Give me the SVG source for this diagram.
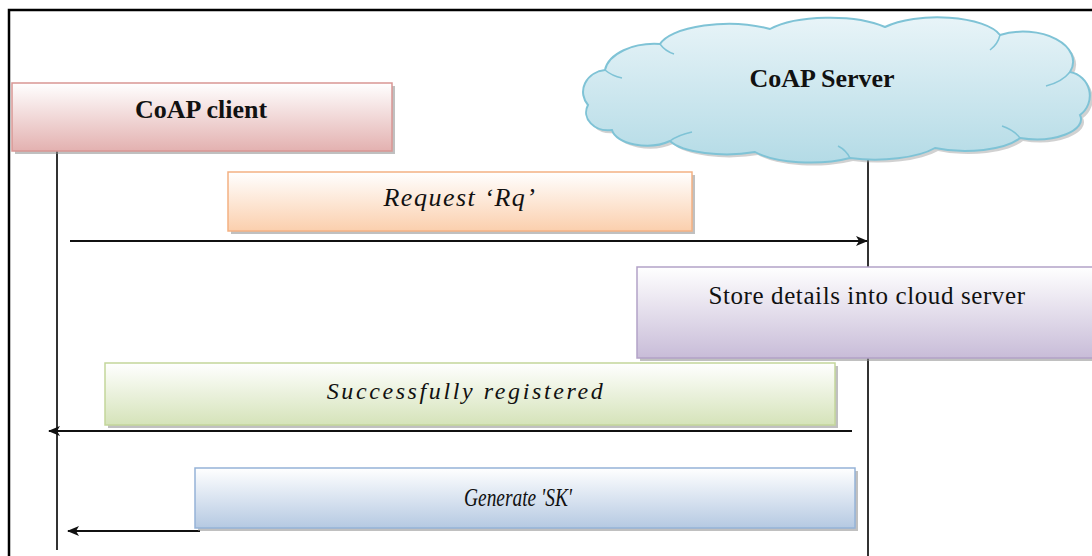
<svg xmlns="http://www.w3.org/2000/svg" width="1092" height="556" viewBox="0 0 1092 556">
  <defs>
    <linearGradient id="gPink" x1="0" y1="0" x2="0" y2="1">
      <stop offset="0" stop-color="#ffffff"/>
      <stop offset="1" stop-color="#e3b1b0"/>
    </linearGradient>
    <linearGradient id="gOrange" x1="0" y1="0" x2="0" y2="1">
      <stop offset="0" stop-color="#ffffff"/>
      <stop offset="1" stop-color="#fbcfad"/>
    </linearGradient>
    <linearGradient id="gPurple" x1="0" y1="0" x2="0" y2="1">
      <stop offset="0" stop-color="#ffffff"/>
      <stop offset="1" stop-color="#c8bcd8"/>
    </linearGradient>
    <linearGradient id="gGreen" x1="0" y1="0" x2="0" y2="1">
      <stop offset="0" stop-color="#ffffff"/>
      <stop offset="1" stop-color="#d5e3b9"/>
    </linearGradient>
    <linearGradient id="gBlue" x1="0" y1="0" x2="0" y2="1">
      <stop offset="0" stop-color="#ffffff"/>
      <stop offset="1" stop-color="#b5c9e2"/>
    </linearGradient>
    <linearGradient id="gCloud" x1="0" y1="0" x2="0" y2="1">
      <stop offset="0" stop-color="#e8f4f8"/>
      <stop offset="1" stop-color="#b4dbe6"/>
    </linearGradient>
    <path id="cloudShape" d="M588,105 A25,22 0 0 1 605,70 A50,30 0 0 1 660,44 A70,26 0 0 1 770,29 A70,24 0 0 1 885,27 A65,24 0 0 1 1000,35 A50,30 0 0 1 1070,72 A24,24 0 0 1 1080,115 A45,20 0 0 1 1020,138 A60,22 0 0 1 935,148 A70,24 0 0 1 850,158 A65,22 0 0 1 755,152 A60,20 0 0 1 670,141 A35,18 0 0 1 612,130 A22,18 0 0 1 588,105 Z"/>
    <marker id="arrow" viewBox="0 0 12 10" refX="11" refY="5" markerWidth="12" markerHeight="10" markerUnits="userSpaceOnUse" orient="auto">
      <path d="M0,0 L12,5 L0,10 L3,5 Z" fill="#111"/>
    </marker>
    <style>
      .frame { fill: none; stroke: #000; stroke-width: 2.5; }
      .life { stroke: #333; stroke-width: 2; }
      .msg { stroke: #111; stroke-width: 2; fill: none; marker-end: url(#arrow); }
      .shadow { fill: #8c8c8c; opacity: 0.55; }
      .bold { font-family: "Liberation Serif", "Times New Roman", serif; font-weight: bold; font-size: 26px; fill: #111; }
      .plain { font-family: "Liberation Serif", "Times New Roman", serif; font-size: 25px; fill: #111; }
      .ital { font-family: "Liberation Serif", "Times New Roman", serif; font-style: italic; fill: #111; }
    </style>
  </defs>

  <rect width="1092" height="556" fill="#ffffff"/>

  <!-- outer frame (left and top edges) -->
  <path class="frame" d="M9,556 V10 H1092"/>

  <!-- lifelines -->
  <g id="lifelines">
    <line class="life" x1="57" y1="150" x2="57" y2="550"/>
    <line class="life" x1="868" y1="150" x2="868" y2="556"/>
  </g>

  <!-- messages -->
  <g id="connectors">
    <line class="msg" x1="70" y1="241" x2="867" y2="241"/>
    <line class="msg" x1="852" y1="431" x2="49" y2="431"/>
    <line class="msg" x1="200" y1="531" x2="68" y2="531"/>
  </g>

  <g id="client">
    <rect class="shadow" x="15" y="86" width="380" height="68"/>
    <rect x="12" y="83" width="380" height="68" fill="url(#gPink)" stroke="#d99694" stroke-width="1.5"/>
    <text class="bold" x="201" y="118" text-anchor="middle">CoAP client</text>
  </g>

  <g id="server">
    <use href="#cloudShape" fill="#9a9a9a" opacity="0.45" transform="translate(3,3)"/>
    <use href="#cloudShape" fill="url(#gCloud)" stroke="#7fc3d6" stroke-width="2"/>
    <path d="M605,70 Q612,76 622,78 M660,44 Q665,51 674,54 M1000,35 Q998,44 990,50 M1070,72 Q1062,82 1046,86 M1020,138 Q1014,130 1002,126 M670,141 Q678,135 692,132 M850,158 Q846,150 838,146" fill="none" stroke="#7fc3d6" stroke-width="1.5"/>
    <text class="bold" x="822" y="87" text-anchor="middle">CoAP  Server</text>
  </g>

  <g id="request">
    <rect class="shadow" x="231" y="175" width="464" height="59"/>
    <rect x="228" y="172" width="464" height="59" fill="url(#gOrange)" stroke="#f4b183" stroke-width="1.5"/>
    <text class="ital" x="460" y="206" text-anchor="middle" font-size="26" letter-spacing="1.5">Request ‘Rq’</text>
  </g>

  <g id="store">
    <rect class="shadow" x="640" y="270" width="460" height="91"/>
    <rect x="637" y="267" width="460" height="91" fill="url(#gPurple)" stroke="#b3a2c7" stroke-width="1.5"/>
    <text class="plain" x="867" y="304" text-anchor="middle" letter-spacing="0.6">Store details into cloud server</text>
  </g>

  <g id="registered">
    <rect class="shadow" x="108" y="366" width="730" height="62"/>
    <rect x="105" y="363" width="730" height="62" fill="url(#gGreen)" stroke="#c3d69b" stroke-width="1.5"/>
    <text class="ital" x="466" y="399" text-anchor="middle" font-size="24" letter-spacing="2.6">Successfully registered</text>
  </g>

  <g id="generate">
    <rect class="shadow" x="198" y="471" width="660" height="60"/>
    <rect x="195" y="468" width="660" height="60" fill="url(#gBlue)" stroke="#95b3d7" stroke-width="1.5"/>
    <text class="ital" x="464" y="506" font-size="25" textLength="108" lengthAdjust="spacingAndGlyphs">Generate 'SK'</text>
  </g>
</svg>
